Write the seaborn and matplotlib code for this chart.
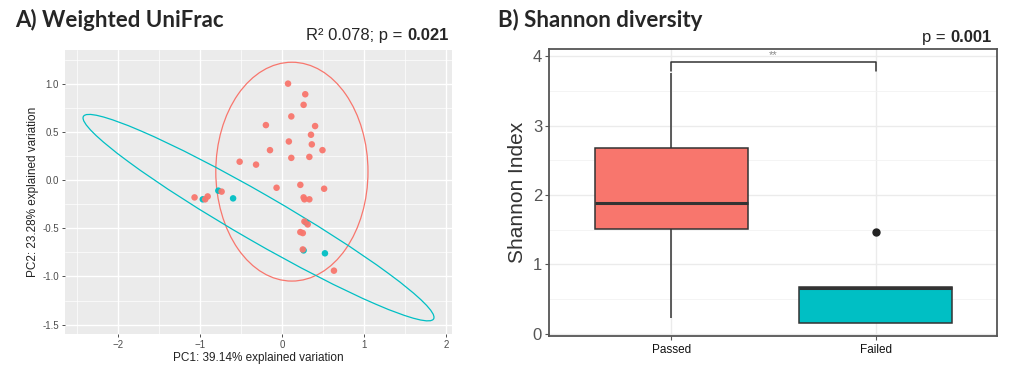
import numpy as np
import pandas as pd
import matplotlib
matplotlib.use("Agg")
import matplotlib.pyplot as plt
import seaborn as sns
from matplotlib.patches import Ellipse
from matplotlib.ticker import MultipleLocator

# ── data ────────────────────────────────────────────────────────────────────
GROUPS = ["Passed", "Failed"]
COLORS = {"Passed": "#F8766D", "Failed": "#00BFC4"}

# PCoA (weighted UniFrac) coordinates
pc1_passed = [0.07, 0.28, 0.26, 0.11, -0.20, 0.40, 0.35, 0.08, 0.36, -0.15, 0.49,
              0.11, 0.33, -0.52, -0.32, -0.07, 0.22, 0.51, 0.26, 0.27, 0.33,
              -1.07, -0.94, -0.91, -0.74, 0.27, 0.31, 0.22, 0.25, 0.25, 0.63]
pc2_passed = [1.00, 0.89, 0.78, 0.66, 0.57, 0.56, 0.47, 0.40, 0.37, 0.31, 0.31,
              0.23, 0.24, 0.19, 0.16, -0.08, -0.05, -0.09, -0.18, -0.20, -0.20,
              -0.18, -0.20, -0.17, -0.12, -0.43, -0.46, -0.54, -0.55, -0.72, -0.94]
pc1_failed = [0.29, -0.78, -0.97, -0.60, 0.26, 0.52]
pc2_failed = [-0.44, -0.11, -0.20, -0.19, -0.73, -0.76]

# stat_ellipse outlines (centre, full width/height, angle in degrees)
ell_cx    = [0.117, -0.29]
ell_cy    = [0.087, -0.39]
ell_w     = [1.856, 4.76]
ell_h     = [2.27, 0.50]
ell_angle = [0.0, -26.1]

# Shannon index per sample
shannon_passed = [0.23, 1.20, 1.48, 1.54, 1.70, 1.88, 2.20, 2.60, 2.76, 3.20, 3.76]
shannon_failed = [0.15, 0.15, 0.66, 0.67, 1.47]

bracket_top = 3.91
bracket_tip = 3.79

pcoa = pd.DataFrame({
    "PC1": pc1_failed + pc1_passed,
    "PC2": pc2_failed + pc2_passed,
    "group": ["Failed"] * len(pc1_failed) + ["Passed"] * len(pc1_passed),
})
alpha_df = pd.DataFrame({
    "group": ["Passed"] * len(shannon_passed) + ["Failed"] * len(shannon_failed),
    "shannon": shannon_passed + shannon_failed,
})

# ── figure ──────────────────────────────────────────────────────────────────
sns.set_style("white")
plt.rcParams["font.family"] = ["Liberation Sans", "DejaVu Sans"]

fig = plt.figure(figsize=(10.22, 3.90), dpi=100)

# ─── A) Weighted UniFrac ────────────────────────────────────────────────────
axA = fig.add_axes([0.0636, 0.1436, 0.3787, 0.7282])
axA.set_facecolor("#EBEBEB")
sns.scatterplot(data=pcoa, x="PC1", y="PC2", hue="group", palette=COLORS,
                s=22, linewidth=0, alpha=0.95, legend=False, ax=axA, zorder=3)

for g, cx, cy, w, h, a in zip(GROUPS, ell_cx, ell_cy, ell_w, ell_h, ell_angle):
    axA.add_patch(Ellipse((cx, cy), w, h, angle=a, fill=False,
                          edgecolor=COLORS[g], linewidth=0.9, zorder=2))

axA.xaxis.set_major_locator(MultipleLocator(1))
axA.xaxis.set_minor_locator(MultipleLocator(0.5))
axA.set_yticks([-1.5, -1.0, -0.5, 0.0, 0.5, 1.0])
axA.set_yticklabels(["-1.5", "-1.0", "-0.5", "0.0", "0.5", "1.0"])
axA.yaxis.set_minor_locator(MultipleLocator(0.25))
axA.set_xlim(-2.65, 2.07)
axA.set_ylim(-1.597, 1.349)
axA.grid(which="major", color="white", linewidth=1.0)
axA.grid(which="minor", color="white", linewidth=0.5)
axA.set_axisbelow(True)
for s in axA.spines.values():
    s.set_visible(False)
axA.tick_params(which="major", length=2.5, width=0.6, color="#333333",
                labelsize=7, labelcolor="#4D4D4D", pad=2,
                bottom=True, left=True)
axA.tick_params(which="minor", length=0)
axA.set_xlabel("PC1: 39.14% explained variation", fontsize=8.5, color="#222222", labelpad=1)
axA.set_ylabel("PC2: 23.28% explained variation", fontsize=8.5, color="#222222", labelpad=2)

fig.text(0.015, 0.93, "A) Weighted UniFrac", fontsize=16, fontweight="bold",
         family=["Lato", "DejaVu Sans"], va="baseline")
pA = fig.text(0.439, 0.898, "0.021", fontsize=12, fontweight="bold",
              ha="right", va="baseline")
axA.annotate("R² 0.078; p = ", xy=(0, 0), xycoords=pA, xytext=(0, 0),
             textcoords="offset points", fontsize=12, ha="right", va="bottom",
             annotation_clip=False)

# ─── B) Shannon diversity ───────────────────────────────────────────────────
axB = fig.add_axes([0.5372, 0.1385, 0.4384, 0.7351])
sns.boxplot(data=alpha_df, x="group", y="shannon", hue="group", order=GROUPS,
            palette=COLORS, saturation=1, width=0.75, linecolor="#333333",
            linewidth=1.1, showcaps=False,
            medianprops={"linewidth": 2.2},
            flierprops={"marker": "o", "markerfacecolor": "#222222",
                        "markeredgecolor": "#222222", "markersize": 5},
            legend=False, ax=axB, zorder=3)

axB.plot([0, 0, 1, 1], [bracket_tip, bracket_top, bracket_top, bracket_tip],
         color="#333333", linewidth=1.1, zorder=4)
axB.text(0.5, bracket_top + 0.04, "**", ha="center", va="bottom",
         fontsize=8, color="#888888")

axB.set_xlim(-0.6, 1.595)
axB.set_ylim(-0.03, 4.10)
axB.yaxis.set_major_locator(MultipleLocator(1))
axB.yaxis.set_minor_locator(MultipleLocator(0.5))
axB.grid(axis="y", which="major", color="#EBEBEB", linewidth=1.0)
axB.grid(axis="y", which="minor", color="#F2F2F2", linewidth=0.6)
axB.grid(axis="x", which="major", color="#EBEBEB", linewidth=1.0)
axB.set_axisbelow(True)
for s in axB.spines.values():
    s.set_visible(True)
    s.set_color("#555555")
    s.set_linewidth(1.3)
axB.tick_params(axis="y", which="major", length=3, width=0.8, color="#555555",
                labelsize=12, labelcolor="#555555", pad=2, left=True)
axB.tick_params(axis="x", which="major", length=3, width=0.8, color="#555555",
                labelsize=8.5, labelcolor="#111111", pad=3, bottom=True)
axB.tick_params(which="minor", length=0)
axB.set_xlabel("")
axB.set_ylabel("Shannon Index", fontsize=15, color="#333333", labelpad=4)

fig.text(0.487, 0.93, "B) Shannon diversity", fontsize=16, fontweight="bold",
         family=["Lato", "DejaVu Sans"], va="baseline")
pB = fig.text(0.970, 0.893, "0.001", fontsize=12, fontweight="bold",
              ha="right", va="baseline")
axB.annotate("p = ", xy=(0, 0), xycoords=pB, xytext=(0, 0),
             textcoords="offset points", fontsize=12, ha="right", va="bottom",
             annotation_clip=False)

fig.savefig("out.png", dpi=100)
